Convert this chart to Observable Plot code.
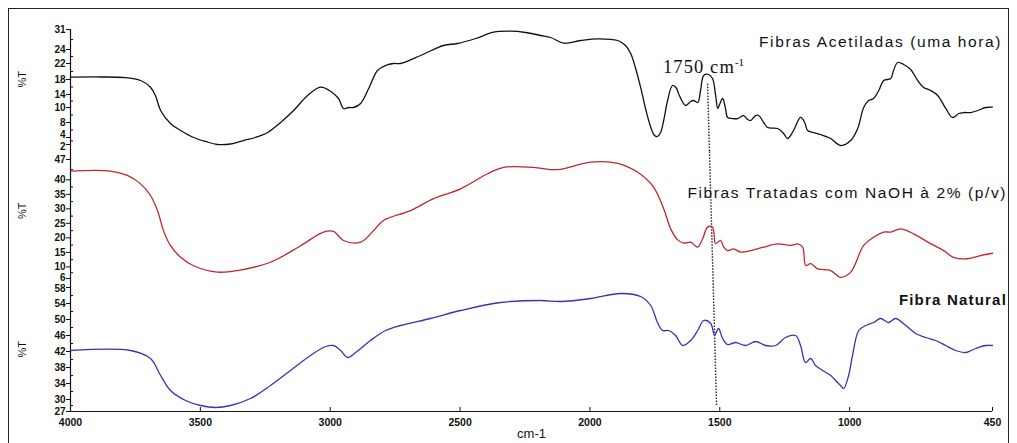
<!DOCTYPE html>
<html>
<head>
<meta charset="utf-8">
<script src="https://cdn.jsdelivr.net/npm/d3@7"></script>
<script src="https://cdn.jsdelivr.net/npm/@observablehq/plot@0.6"></script>
<style>
  html, body { margin: 0; padding: 0; background: #fff; }
  #wrap { position: relative; width: 1017px; height: 443px; overflow: hidden; background: #fff; }
  #border { position: absolute; left: 8px; top: 8px; width: 1001px; height: 460px; border: 1px solid #222; box-sizing: border-box; }
  .panel { position: absolute; left: 0; }
  .panel svg { overflow: visible; }
  .lbl { position: absolute; font-family: "Liberation Sans", Arial, sans-serif; font-size: 15.5px; line-height: 1; letter-spacing: 1.6px; color: #111; white-space: nowrap; }
  .ann { position: absolute; font-family: "Liberation Serif", "Times New Roman", serif; font-size: 18.5px; line-height: 1; letter-spacing: 1.1px; color: #111; white-space: nowrap; }
  .ann sup { font-size: 11px; vertical-align: 7px; letter-spacing: 0; }
</style>
</head>
<body>
<div id="wrap">
  <div id="border"></div>
  <div id="p1" class="panel" style="top:0px"></div>
  <div id="p2" class="panel" style="top:151px"></div>
  <div id="p3" class="panel" style="top:283px"></div>
</div>
<script>
// ---- Data (wavenumber in cm-1, transmittance %T) ----
const seriesNames = ["Fibras Acetiladas (uma hora)", "Fibras Tratadas com NaOH à 2% (p/v)", "Fibra Natural"];
const seriesColors = ["#111111", "#c0272d", "#3434b4"];

const acetWn = [4000,3884,3796,3730,3692,3673,3653,3615,3576,3526,3480,3434,3384,3334,3288,3241,3191,3141,3087,3037,2999,2968,2949,2929,2910,2883,2852,2818,2787,2756,2729,2652,2564,2510,2440,2371,2306,2248,2190,2151,2101,2036,1970,1893,1863,1843,1824,1805,1786,1766,1751,1740,1728,1716,1701,1682,1666,1659,1632,1612,1601,1585,1574,1562,1543,1528,1516,1508,1501,1489,1478,1470,1451,1431,1408,1393,1381,1362,1350,1331,1316,1277,1254,1239,1216,1189,1173,1162,1139,1112,1073,1035,996,969,946,927,908,888,869,842,831,815,792,765,738,715,688,661,630,604,580,561,534,507,476,450];
const acetT = [18.58,18.63,18.5,17.73,15.95,13.69,9.6,7.73,5.87,4.0,2.86,2.0,2.14,3.14,4.0,5.33,8.0,9.6,13.69,15.95,14.88,12.77,9.87,10.0,10.0,11.23,15.6,20.25,21.5,22.0,22.0,23.14,25.4,26.1,27.85,30.05,30.4,29.95,28.9,28.2,26.2,27.15,27.75,27.15,25.4,23.43,20.75,15.95,9.87,6.75,4.53,4.27,5.33,8.27,12.15,16.4,15.6,14.27,10.62,11.85,12.15,11.54,15.07,19.0,19.25,18.25,13.69,9.87,10.92,12.77,9.87,8.67,8.53,8.53,8.93,8.4,8.27,8.93,8.93,8.0,6.67,6.4,5.07,3.71,5.87,8.67,8.0,5.87,5.33,4.8,3.71,1.71,3.14,6.4,10.0,12.15,12.77,15.07,17.73,18.25,20.25,22.14,21.75,20.5,17.73,15.87,15.07,13.69,9.87,8.67,9.2,9.33,9.33,9.6,10.0,10.13];

const naohWn = [4000,3846,3781,3730,3692,3665,3642,3615,3576,3526,3434,3357,3230,3114,3026,2987,2949,2883,2833,2795,2691,2602,2498,2394,2332,2217,2125,1997,1893,1816,1755,1716,1689,1662,1639,1612,1585,1566,1547,1528,1516,1497,1485,1470,1447,1420,1381,1331,1277,1227,1200,1181,1169,1150,1123,1073,1035,996,946,908,869,842,804,754,688,638,600,546,496,450];
const naohT = [43.0,43.0,41.5,38.6,34.6,29.4,22.5,17.3,13.3,10.4,8.2,8.75,11.6,17.3,22.0,22.2,19.1,18.5,22.5,26.0,29.4,33.5,36.9,42.1,44.3,44.3,43.5,46.1,45.7,42.6,37.5,30.0,23.1,19.3,18.2,18.5,16.8,19.7,23.7,23.7,18.0,19.1,16.8,15.6,16.2,15.1,15.6,16.8,17.9,17.4,17.9,16.8,10.5,11.1,9.3,8.75,6.4,8.2,17.4,20.2,22.0,22.0,23.1,21.4,18.0,15.6,13.3,12.8,13.9,14.7];

const natWn = [4000,3769,3692,3653,3615,3557,3499,3442,3384,3307,3230,3153,3076,3018,2987,2960,2933,2902,2845,2787,2729,2614,2498,2344,2190,2113,1997,1882,1805,1766,1740,1720,1697,1670,1643,1612,1585,1562,1535,1520,1505,1489,1470,1439,1401,1362,1323,1285,1247,1208,1189,1170,1150,1131,1104,1073,1054,1035,1023,1004,989,965,938,908,881,850,823,784,746,707,669,630,592,553,515,476,450];
const natT = [42.25,42.25,40.25,36.0,32.25,29.75,28.5,28.0,28.5,30.25,33.5,37.25,41.0,43.25,43.5,42.25,40.5,41.75,44.75,47.25,48.5,50.25,52.25,54.25,54.75,54.5,55.25,56.5,55.75,53.5,49.25,47.25,47.25,46.0,43.5,44.75,47.25,49.75,49.0,46.0,47.75,45.25,43.75,44.25,43.5,44.5,43.5,43.5,45.5,46.0,43.5,39.25,40.25,38.5,37.25,36.0,34.75,33.5,32.75,36.0,41.0,47.25,48.5,49.25,50.25,49.25,50.25,48.5,46.5,45.5,44.75,43.5,42.25,41.75,42.75,43.5,43.5];

// axis ticks (the top panel's %T axis is unevenly spaced, as printed in the original)
const xTicks = [4000, 3500, 3000, 2500, 2000, 1500, 1000, 450];
const yTicks1 = [31, 24, 22, 18, 14, 10, 8, 4, 2];
const yTicks2 = [47, 40, 35, 30, 25, 20, 15, 10, 6];
const yTicks3 = [58, 54, 50, 46, 42, 38, 34, 30, 27];
const yMinor1 = [27.5, 23, 20, 16, 12, 9, 6, 3];
const yMinor2 = [43.5, 37.5, 32.5, 27.5, 22.5, 17.5, 12.5, 8];
const yMinor3 = [56, 52, 48, 44, 40, 36, 32, 28.5];
// pixel positions of the top panel's printed tick labels (piecewise axis)
const yTickPos1 = [29, 49, 63, 79, 94, 107, 122, 137, 144];

// dotted marker at the 1750 cm-1 band, one segment per panel
const marker1 = [{x1: 1547, y1: 16.9, x2: 1539.7, y2: 0}];
const marker2 = [{x1: 1539.7, y1: 49.8, x2: 1525.5, y2: 4.3}];
const marker3 = [{x1: 1525.5, y1: 59, x2: 1512.4, y2: 28.5}];

const zip = (w, t) => w.map((x, i) => ({wn: x, t: t[i]}));
const acet = zip(acetWn, acetT), naoh = zip(naohWn, naohT), nat = zip(natWn, natT);

const font = "'Liberation Sans', Arial, sans-serif";
const W = 1017, ML = 70, MR = 25;
const plotW = W - ML - MR;

// small nudges for crowded tick labels (label value -> vertical shift in px)
const labelShift = new Map([[4, -3], [2, 2], [6, -1], [58, 1]]);

function panel({data, color, yScale, yTicks, yMinor, marker, height, mt, mb, ruleInsetTop, ruleInsetBottom, pctDy, xAxis}) {
  const frameH = height - mt - mb;
  const shifts = Array.from(new Set(yTicks.map(t => labelShift.get(t) || 0)));
  const marks = [
    Plot.ruleX([4000], {stroke: "#111", strokeWidth: 1.2, insetTop: ruleInsetTop, insetBottom: ruleInsetBottom}),
    Plot.tickY(yTicks, {y: d => d, insetRight: plotW - 4, dx: -4, stroke: "#111", strokeWidth: 1}),
    Plot.tickY(yMinor, {y: d => d, insetRight: plotW - 3, stroke: "#111", strokeWidth: 1}),
    ...shifts.map(s => Plot.text(yTicks.filter(t => (labelShift.get(t) || 0) === s), {y: d => d, frameAnchor: "left", dx: -5, dy: s, textAnchor: "end", text: d => String(d), fontWeight: "bold", fontSize: 10, fill: "#111"})),
    Plot.text(["%T"], {frameAnchor: "left", dx: -48, dy: pctDy, rotate: -90, fontSize: 11, fill: "#111", text: d => d}),
    Plot.link(marker, {x1: "x1", y1: "y1", x2: "x2", y2: "y2", stroke: "#222", strokeWidth: 1.4, strokeDasharray: "1.5,1.5"}),
    Plot.line(data, {x: "wn", y: "t", stroke: color, strokeWidth: 1.3, curve: "catmull-rom"})
  ];
  if (xAxis) {
    marks.push(
      Plot.ruleY([yTicks[yTicks.length - 1]], {stroke: "#111", strokeWidth: 1.2}),
      Plot.tickX(xTicks, {x: d => d, insetTop: frameH - 4, stroke: "#111", strokeWidth: 1}),
      Plot.text(xTicks, {x: d => d, frameAnchor: "bottom", dy: 11, text: d => String(d), fontWeight: "bold", fontSize: 10.5, fill: "#111", lineAnchor: "middle"}),
      Plot.text(["cm-1"], {frameAnchor: "bottom", dy: 22, text: d => d, fontSize: 13, fill: "#111", lineAnchor: "middle"})
    );
  }
  return Plot.plot({
    width: W,
    height,
    marginLeft: ML,
    marginRight: MR,
    marginTop: mt,
    marginBottom: mb,
    style: {fontFamily: font, background: "transparent", overflow: "visible"},
    x: {domain: [4000, 450], axis: null},
    y: {...yScale, axis: null},
    marks
  });
}

const sortedTicks1 = yTicks1.slice().reverse();
const sortedPos1 = yTickPos1.slice().reverse();

document.getElementById("p1").appendChild(panel({data: acet, color: seriesColors[0], yScale: {type: "linear", domain: sortedTicks1, range: sortedPos1}, yTicks: yTicks1, yMinor: yMinor1, marker: marker1, height: 151, mt: 29, mb: 6, ruleInsetTop: 0, ruleInsetBottom: -6, pctDy: 0}));
document.getElementById("p2").appendChild(panel({data: naoh, color: seriesColors[1], yScale: {domain: [6, 47]}, yTicks: yTicks2, yMinor: yMinor2, marker: marker2, height: 132, mt: 8, mb: 5, ruleInsetTop: -8, ruleInsetBottom: -5, pctDy: 0}));
document.getElementById("p3").appendChild(panel({data: nat, color: seriesColors[2], yScale: {domain: [27, 58]}, yTicks: yTicks3, yMinor: yMinor3, marker: marker3, height: 160, mt: 4, mb: 32, ruleInsetTop: -4, ruleInsetBottom: 0, pctDy: 8, xAxis: true}));

// Series labels and band annotation
const wrap = document.getElementById("wrap");
function addLabel(text, style, cls) {
  const d = document.createElement("div");
  d.className = cls || "lbl";
  Object.assign(d.style, style);
  d.innerHTML = text;
  wrap.appendChild(d);
}
addLabel(seriesNames[0], {right: "15px", top: "34px"});
addLabel(seriesNames[1], {right: "10px", top: "185px"});
addLabel(seriesNames[2], {right: "10px", top: "292px", fontWeight: "bold", fontSize: "15px", letterSpacing: "1.2px"});
addLabel("1750 cm<sup>-1</sup>", {left: "663px", top: "57px"}, "ann");
</script>
</body>
</html>
